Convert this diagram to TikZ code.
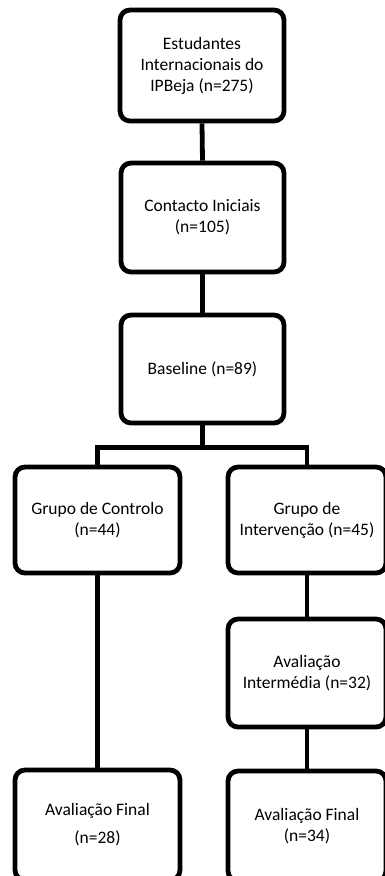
\documentclass[tikz,border=0pt]{standalone}
\usepackage{fontspec}
\setmainfont{Carlito}
\begin{document}
\begin{tikzpicture}[x=1pt,y=1pt,
  box/.style={draw=black, line width=4.8pt, rounded corners=10pt, rectangle,
    align=center, inner sep=0pt, font=\fontsize{17.5}{21}\selectfont},
  link/.style={draw=black, line width=4.8pt}]
\useasboundingbox (0,0) rectangle (385,-876);
\node[box, minimum width=164, minimum height=111] (b1) at (202,-65.5)
  {Estudantes\\Internacionais do\\IPBeja (n=275)};
\node[box, minimum width=163, minimum height=109] (b2) at (202.5,-217.5)
  {Contacto Iniciais\\(n=105)};
\node[box, minimum width=163, minimum height=108] (b3) at (202.5,-369)
  {Baseline (n=89)};
\node[box, minimum width=165, minimum height=106] (l1) at (97.5,-520)
  {Grupo de Controlo\\(n=44)};
\node[box, minimum width=158, minimum height=106] (r1) at (307,-520)
  {Grupo de\\Intervenção (n=45)};
\node[box, minimum width=158, minimum height=108] (r2) at (307,-673)
  {Avaliação\\Intermédia (n=32)};
\node[box, minimum width=165, minimum height=110, font=\fontsize{17.5}{28}\selectfont] (l2) at (97.5,-825)
  {Avaliação Final\\(n=28)};
\node[box, minimum width=158, minimum height=110] (r3) at (307,-826)
  {Avaliação Final\\(n=34)};
\draw[link] (b1.south) -- (b2.north);
\draw[link] (b2.south) -- (b3.north);
\coordinate (split) at ([yshift=-22]b3.south);
\draw[link] (b3.south) -- (split);
\draw[link] (split) -| (l1.north);
\draw[link] (split) -| (r1.north);
\draw[link] (l1.south) -- (l2.north);
\draw[link] (r1.south) -- (r2.north);
\draw[link] (r2.south) -- (r3.north);
\end{tikzpicture}
\end{document}
